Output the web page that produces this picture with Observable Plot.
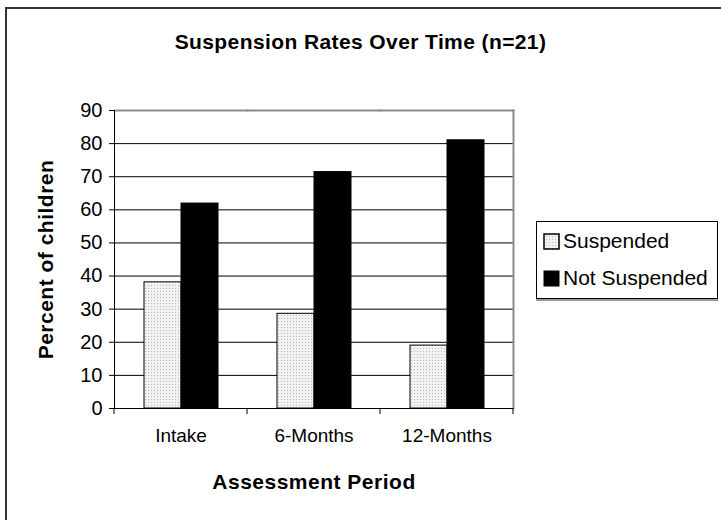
<!DOCTYPE html>
<html>
<head>
<meta charset="utf-8">
<script src="https://cdn.jsdelivr.net/npm/d3@7"></script>
<script src="https://cdn.jsdelivr.net/npm/@observablehq/plot@0.6"></script>
<style>
  body { margin: 0; background: #fff; font-family: "Liberation Sans", Arial, sans-serif; }
  #wrap { position: relative; width: 721px; height: 520px; overflow: hidden; background: #fff; }
  #border { position: absolute; left: 5px; top: 7px; width: 760px; height: 560px; border: 2px solid #333; box-sizing: border-box; }
  #title { position: absolute; left: 0; width: 721px; top: 30px; text-align: center; font-weight: bold; font-size: 21px; letter-spacing: 0.4px; color: #000; }
  #chart { position: absolute; left: 0; top: 0; }
  #legend { position: absolute; left: 536px; top: 221px; width: 182px; height: 78px; border: 1px solid #000; box-shadow: 0 2px 0 #999; box-sizing: border-box; background: #fff; }
  .item { position: absolute; left: 6px; font-size: 21px; color: #000; display: flex; align-items: center; white-space: nowrap; }
  .item svg { margin-right: 3px; }
  svg g[aria-label="y-axis label"] text, svg g[aria-label="fx-axis label"] text { font-weight: bold; letter-spacing: 0.5px; font-size: 21px; }
</style>
</head>
<body>
<svg width="0" height="0" style="position:absolute">
  <defs>
    <pattern id="dots" width="3" height="3" patternUnits="userSpaceOnUse">
      <rect width="3" height="3" fill="#f2f2f2"></rect>
      <rect width="1" height="1" fill="#b8b8b8"></rect>
    </pattern>
  </defs>
</svg>
<div id="wrap">
  <div id="border"></div>
  <div id="chart"></div>
  <div id="title"></div>
  <div id="legend"></div>
</div>
<script>
const titleText = "Suspension Rates Over Time (n=21)";
const periods = ["Intake", "6-Months", "12-Months"];
const seriesNames = ["Suspended", "Not Suspended"];
const suspended = [38.1, 28.6, 19.0];
const notSuspended = [61.9, 71.4, 81.0];
const yTicks = [0, 10, 20, 30, 40, 50, 60, 70, 80, 90];
const yLabel = "Percent of children";
const xLabel = "Assessment Period";
const seriesFills = ["url(#dots)", "#000"];

const data = [];
periods.forEach((p, i) => {
  data.push({period: p, series: seriesNames[0], value: suspended[i]});
  data.push({period: p, series: seriesNames[1], value: notSuspended[i]});
});

document.getElementById("title").textContent = titleText;

const chart = Plot.plot({
  width: 721,
  height: 520,
  marginLeft: 113,
  marginRight: 207,
  marginTop: 110,
  marginBottom: 112,
  style: {fontFamily: "'Liberation Sans', Arial, sans-serif", fontSize: "19px", color: "#000", background: "transparent", overflow: "visible"},
  fx: {domain: periods, padding: 0},
  x: {domain: seriesNames, paddingInner: 0, paddingOuter: 0.76, axis: null},
  y: {domain: [0, 90]},
  color: {domain: seriesNames, range: seriesFills},
  marks: [
    Plot.ruleY(yTicks.filter(d => d > 0 && d < 90), {stroke: "#000", strokeWidth: 1, strokeOpacity: 1}),
    Plot.barY(data, {fx: "period", x: "series", y: "value", fill: "series", stroke: "#000", strokeWidth: 1}),
    Plot.frame({anchor: "top", stroke: "#8c8c8c", strokeWidth: 2, facetAnchor: "top"}),
    Plot.frame({anchor: "right", stroke: "#8c8c8c", strokeWidth: 2, facetAnchor: "right"}),
    Plot.frame({anchor: "left", stroke: "#000", strokeWidth: 1, facetAnchor: "left"}),
    Plot.ruleY([0], {stroke: "#000", strokeWidth: 1}),
    Plot.axisY({ticks: yTicks, tickSize: 5, tickPadding: 7, fontSize: 20, label: yLabel, labelAnchor: "center", labelArrow: "none", labelOffset: 76}),
    Plot.axisFx({anchor: "bottom", tickSize: 0, tickPadding: 20, fontSize: 19, label: xLabel, labelAnchor: "center", labelArrow: "none", labelOffset: 80})
  ]
});
document.getElementById("chart").appendChild(chart);

// category boundary ticks below the baseline, positioned from Plot's own scales
const fx = chart.scale("fx");
const ys = chart.scale("y");
const edges = periods.map(p => fx.apply(p)).concat([fx.apply(periods[periods.length - 1]) + fx.bandwidth]);
const y0 = ys.apply(0);
d3.select(chart).append("g").attr("aria-label", "fx-boundary-ticks")
  .selectAll("line").data(edges).join("line")
  .attr("x1", d => d).attr("x2", d => d)
  .attr("y1", y0).attr("y2", y0 + 6)
  .attr("stroke", "#000");

// legend
const legend = d3.select("#legend");
seriesNames.forEach((s, i) => {
  const item = legend.append("div").attr("class", "item").style("top", (i === 0 ? 7 : 44) + "px");
  const sw = item.append("svg").attr("width", 17).attr("height", 17);
  sw.append("rect").attr("x", 1).attr("y", 1).attr("width", 15).attr("height", 15)
    .attr("fill", seriesFills[i]).attr("stroke", "#000").attr("stroke-width", i === 0 ? 1.5 : 1);
  item.append("span").text(s);
});
</script>
</body>
</html>
